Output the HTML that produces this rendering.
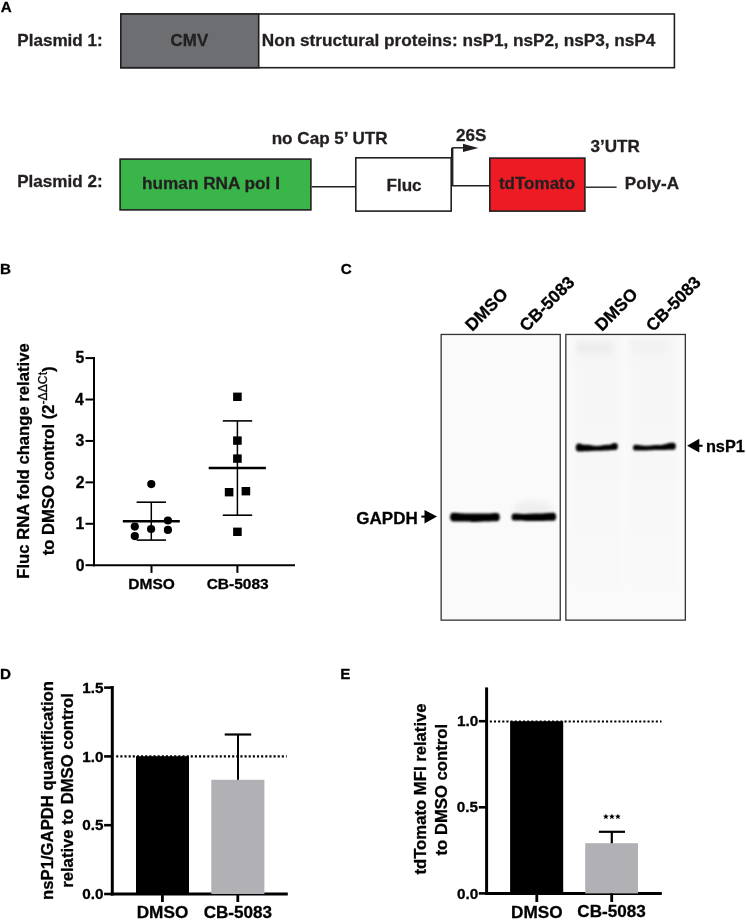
<!DOCTYPE html>
<html><head><meta charset="utf-8"><style>
html,body{margin:0;padding:0;background:#fff;}
svg{display:block;font-family:"Liberation Sans", sans-serif;will-change:transform;} text{stroke:currentColor;stroke-width:0.3px;stroke-linejoin:round;paint-order:stroke;}
</style></head><body>
<svg width="746" height="920" viewBox="0 0 746 920">
<defs><linearGradient id="lane" x1="0" y1="0" x2="0" y2="1"><stop offset="0" stop-color="#000" stop-opacity="0.02"/><stop offset="1" stop-color="#000" stop-opacity="0"/></linearGradient><filter id="blur" x="-20%" y="-100%" width="140%" height="300%"><feGaussianBlur stdDeviation="1.0"/></filter><filter id="blur3" x="-50%" y="-100%" width="200%" height="300%"><feGaussianBlur stdDeviation="3"/></filter></defs>
<rect width="746" height="920" fill="#fff"/>
<text x="0.82" y="12.20" font-size="15.2" font-weight="bold" fill="#000" color="#000">A</text>
<text x="17.25" y="45.90" font-size="17.1" font-weight="bold" fill="#231f20" color="#231f20">Plasmid 1:</text>
<rect x="120.8" y="14.0" width="553.60" height="53.70" fill="#fff" stroke="#231f20" stroke-width="1.6"/>
<rect x="120.8" y="14.0" width="137.90" height="53.70" fill="#6d6e71" stroke="#231f20" stroke-width="1.6"/>
<text x="170.61" y="46.10" font-size="16.9" font-weight="bold" fill="#231f20" color="#231f20">CMV</text>
<text x="261.85" y="45.90" font-size="17.2" font-weight="bold" fill="#231f20" color="#231f20">Non structural proteins: nsP1, nsP2, nsP3, nsP4</text>
<text x="271.67" y="143.80" font-size="17.1" font-weight="bold" fill="#231f20" color="#231f20">no Cap 5’ UTR</text>
<text x="17.15" y="186.60" font-size="17.1" font-weight="bold" fill="#231f20" color="#231f20">Plasmid 2:</text>
<rect x="120.1" y="159.10000000000002" width="190.80" height="50.80" fill="#39b54a" stroke="#231f20" stroke-width="1.6"/>
<text x="142.10" y="188.60" font-size="17.2" font-weight="bold" fill="#231f20" color="#231f20">human RNA pol I</text>
<line x1="311.7" y1="186.8" x2="355" y2="186.8" stroke="#231f20" stroke-width="1.4" />
<rect x="355.8" y="157.8" width="95.40" height="53.30" fill="#fff" stroke="#231f20" stroke-width="1.6"/>
<text x="386.45" y="190.90" font-size="17.1" font-weight="bold" fill="#231f20" color="#231f20">Fluc</text>
<line x1="452.2" y1="147.8" x2="452.2" y2="185" stroke="#231f20" stroke-width="2.4" />
<line x1="452.2" y1="147.8" x2="465" y2="147.8" stroke="#231f20" stroke-width="1.5" />
<path d="M463.0,143.8 L478.4,147.9 L463.0,152.0 Z" fill="#231f20" stroke="none" stroke-width="0"/>
<text x="456.00" y="140.90" font-size="17.1" font-weight="bold" fill="#231f20" color="#231f20">26S</text>
<line x1="452" y1="185.8" x2="489" y2="185.8" stroke="#231f20" stroke-width="1.4" />
<rect x="489.8" y="158.10000000000002" width="95.10" height="53.00" fill="#ed1c24" stroke="#231f20" stroke-width="1.6"/>
<text x="498.90" y="189.40" font-size="17.05" font-weight="bold" fill="#231f20" color="#231f20">tdTomato</text>
<line x1="585.7" y1="187.2" x2="616.6" y2="187.2" stroke="#231f20" stroke-width="1.4" />
<text x="590.51" y="151.50" font-size="17.1" font-weight="bold" fill="#231f20" color="#231f20">3’UTR</text>
<text x="624.85" y="188.50" font-size="17.1" font-weight="bold" fill="#231f20" color="#231f20">Poly-A</text>
<text x="0.08" y="274.00" font-size="15.2" font-weight="bold" fill="#000" color="#000">B</text>
<text transform="translate(28.80,578.72) rotate(-90)" font-size="16.66" font-weight="bold" fill="#000" color="#000">Fluc RNA fold change relative</text>
<text transform="translate(54.2,555.3) rotate(-90)" font-size="16.66" font-weight="bold" fill="#000"><tspan>to DMSO control (2</tspan><tspan font-size="12.2" font-weight="normal" dy="-6.9">-ΔΔCt</tspan><tspan dy="6.9">)</tspan></text>
<line x1="94" y1="357.1" x2="94" y2="566.2" stroke="#000" stroke-width="2" />
<line x1="93" y1="565.2" x2="295" y2="565.2" stroke="#000" stroke-width="2" />
<line x1="85.5" y1="565.2" x2="94" y2="565.2" stroke="#000" stroke-width="2" />
<text transform="translate(75.66,570.50) scale(1,1.04)" font-size="15.8" font-weight="bold" fill="#000" color="#000">0</text>
<line x1="85.5" y1="523.7800000000001" x2="94" y2="523.7800000000001" stroke="#000" stroke-width="2" />
<text transform="translate(75.46,529.08) scale(1,1.04)" font-size="15.8" font-weight="bold" fill="#000" color="#000">1</text>
<line x1="85.5" y1="482.36" x2="94" y2="482.36" stroke="#000" stroke-width="2" />
<text transform="translate(75.65,487.66) scale(1,1.04)" font-size="15.8" font-weight="bold" fill="#000" color="#000">2</text>
<line x1="85.5" y1="440.94000000000005" x2="94" y2="440.94000000000005" stroke="#000" stroke-width="2" />
<text transform="translate(75.58,446.24) scale(1,1.04)" font-size="15.8" font-weight="bold" fill="#000" color="#000">3</text>
<line x1="85.5" y1="399.52000000000004" x2="94" y2="399.52000000000004" stroke="#000" stroke-width="2" />
<text transform="translate(75.09,404.82) scale(1,1.04)" font-size="15.8" font-weight="bold" fill="#000" color="#000">4</text>
<line x1="85.5" y1="358.1" x2="94" y2="358.1" stroke="#000" stroke-width="2" />
<text transform="translate(75.46,363.40) scale(1,1.04)" font-size="15.8" font-weight="bold" fill="#000" color="#000">5</text>
<line x1="151.5" y1="565.2" x2="151.5" y2="572.9" stroke="#000" stroke-width="2" />
<line x1="237.4" y1="565.2" x2="237.4" y2="572.9" stroke="#000" stroke-width="2" />
<text x="128.36" y="589.00" font-size="15.5" font-weight="bold" fill="#000" color="#000">DMSO</text>
<text x="206.65" y="589.00" font-size="15.5" font-weight="bold" fill="#000" color="#000">CB-5083</text>
<circle cx="151.3" cy="484.1" r="4.1" fill="#000"/>
<circle cx="167.9" cy="520.5" r="4.1" fill="#000"/>
<circle cx="134.8" cy="526.6" r="4.1" fill="#000"/>
<circle cx="151.1" cy="529" r="4.1" fill="#000"/>
<circle cx="167.9" cy="529.9" r="4.1" fill="#000"/>
<circle cx="134.8" cy="536.1" r="4.1" fill="#000"/>
<line x1="151.3" y1="502.2" x2="151.3" y2="540.1" stroke="#000" stroke-width="1.5" />
<line x1="136.6" y1="502.2" x2="166" y2="502.2" stroke="#000" stroke-width="1.6" />
<line x1="136.6" y1="540.1" x2="166" y2="540.1" stroke="#000" stroke-width="1.6" />
<line x1="122.8" y1="521.2" x2="179.8" y2="521.2" stroke="#000" stroke-width="2.6" />
<rect x="233.1" y="392.6" width="8.60" height="8.40" fill="#000" stroke="none" stroke-width="0"/>
<rect x="233.1" y="436.40000000000003" width="8.60" height="8.40" fill="#000" stroke="none" stroke-width="0"/>
<rect x="233.1" y="454.40000000000003" width="8.60" height="8.40" fill="#000" stroke="none" stroke-width="0"/>
<rect x="224.79999999999998" y="488.0" width="8.60" height="8.40" fill="#000" stroke="none" stroke-width="0"/>
<rect x="241.6" y="487.0" width="8.60" height="8.40" fill="#000" stroke="none" stroke-width="0"/>
<rect x="233.1" y="527.5999999999999" width="8.60" height="8.40" fill="#000" stroke="none" stroke-width="0"/>
<line x1="237.4" y1="420.9" x2="237.4" y2="515.2" stroke="#000" stroke-width="1.5" />
<line x1="222.8" y1="420.9" x2="252.2" y2="420.9" stroke="#000" stroke-width="1.6" />
<line x1="222.8" y1="515.2" x2="252.2" y2="515.2" stroke="#000" stroke-width="1.6" />
<line x1="208.7" y1="468" x2="265.9" y2="468" stroke="#000" stroke-width="2.6" />
<text x="340.68" y="274.10" font-size="15.2" font-weight="bold" fill="#000" color="#000">C</text>
<rect x="441.15" y="334.45" width="119.10" height="285.70" fill="#fafafa" stroke="#333" stroke-width="1.3"/>
<rect x="565.85" y="334.45" width="119.50" height="285.70" fill="#fafafa" stroke="#333" stroke-width="1.3"/>
<text transform="translate(472.30,332.00) rotate(-45)" font-size="17.3" font-weight="bold" fill="#000">DMSO</text>
<text transform="translate(526.60,332.40) rotate(-45)" font-size="17.3" font-weight="bold" fill="#000">CB-5083</text>
<text transform="translate(602.00,332.00) rotate(-45)" font-size="17.3" font-weight="bold" fill="#000">DMSO</text>
<text transform="translate(653.00,332.40) rotate(-45)" font-size="17.3" font-weight="bold" fill="#000">CB-5083</text>
<path d="M453.00,512.80 C458.50,512.80 458.50,513.40 464.00,513.40 C469.50,513.40 469.50,513.50 475.00,513.50 C480.50,513.50 480.50,513.50 486.00,513.50 C491.50,513.50 491.50,512.90 497.00,512.90 C500.78,512.90 500.78,521.30 497.00,521.30 C491.50,521.30 491.50,521.50 486.00,521.50 C480.50,521.50 480.50,521.90 475.00,521.90 C469.50,521.90 469.50,521.40 464.00,521.40 C458.50,521.40 458.50,521.40 453.00,521.40 C449.13,521.40 449.13,512.80 453.00,512.80 Z" fill="#000" filter="url(#blur)"/>
<path d="M514.00,513.40 C519.92,513.40 519.92,513.90 525.85,513.90 C531.78,513.90 531.78,513.60 537.70,513.60 C545.60,513.60 545.60,512.80 553.50,512.80 C557.10,512.80 557.10,520.80 553.50,520.80 C545.60,520.80 545.60,521.00 537.70,521.00 C531.78,521.00 531.78,520.90 525.85,520.90 C519.92,520.90 519.92,520.60 514.00,520.60 C510.76,520.60 510.76,513.40 514.00,513.40 Z" fill="#000" filter="url(#blur)"/>
<path d="M578.50,443.40 C582.20,443.40 582.20,444.80 585.90,444.80 C591.45,444.80 591.45,445.90 597.00,445.90 C602.55,445.90 602.55,444.80 608.10,444.80 C611.80,444.80 611.80,443.10 615.50,443.10 C618.65,443.10 618.65,450.10 615.50,450.10 C611.80,450.10 611.80,450.40 608.10,450.40 C602.55,450.40 602.55,450.70 597.00,450.70 C591.45,450.70 591.45,451.20 585.90,451.20 C582.20,451.20 582.20,451.60 578.50,451.60 C574.81,451.60 574.81,443.40 578.50,443.40 Z" fill="#000" filter="url(#blur)"/>
<path d="M635.00,444.80 C640.77,444.80 640.77,445.80 646.55,445.80 C652.33,445.80 652.33,445.10 658.10,445.10 C665.80,445.10 665.80,442.80 673.50,442.80 C676.65,442.80 676.65,449.80 673.50,449.80 C665.80,449.80 665.80,450.10 658.10,450.10 C652.33,450.10 652.33,450.40 646.55,450.40 C640.77,450.40 640.77,450.60 635.00,450.60 C632.39,450.60 632.39,444.80 635.00,444.80 Z" fill="#000" filter="url(#blur)"/>
<ellipse cx="533" cy="509" rx="20" ry="8" fill="#000" opacity="0.045" filter="url(#blur3)"/>
<rect x="576" y="343" width="36" height="10" fill="#000" opacity="0.035" filter="url(#blur3)"/>
<rect x="629" y="339" width="38" height="14" fill="#000" opacity="0.012" filter="url(#blur3)"/>
<rect x="574" y="336" width="46" height="282" fill="url(#lane)" filter="url(#blur3)"/>
<rect x="630" y="336" width="46" height="282" fill="url(#lane)" filter="url(#blur3)"/>
<text x="356.30" y="523.60" font-size="17" font-weight="bold" fill="#000" color="#000">GAPDH</text>
<line x1="421.3" y1="516.6" x2="426" y2="516.6" stroke="#000" stroke-width="2" />
<path d="M424.5,509.9 L437,516.6 L424.5,523.4 Z" fill="#000" stroke="none" stroke-width="0"/>
<line x1="698" y1="445.75" x2="702.6" y2="445.75" stroke="#000" stroke-width="2" />
<path d="M699.3,438.85 L687.1,445.75 L699.3,452.6 Z" fill="#000" stroke="none" stroke-width="0"/>
<text x="705.92" y="451.50" font-size="16.3" font-weight="bold" fill="#000" color="#000">nsP1</text>
<text x="-0.02" y="679.40" font-size="15.2" font-weight="bold" fill="#000" color="#000">D</text>
<text transform="translate(53.40,899.90) rotate(-90)" font-size="16.7" font-weight="bold" fill="#000" color="#000">nsP1/GAPDH quantification</text>
<text transform="translate(73.30,887.80) rotate(-90)" font-size="16.7" font-weight="bold" fill="#000" color="#000">relative to DMSO control</text>
<line x1="112.3" y1="686" x2="112.3" y2="895.5" stroke="#000" stroke-width="3" />
<line x1="110.8" y1="894.0" x2="287.8" y2="894.0" stroke="#000" stroke-width="3" />
<line x1="104.1" y1="894.0" x2="112.3" y2="894.0" stroke="#000" stroke-width="2.6" />
<text x="82.36" y="899.10" font-size="15.3" font-weight="bold" fill="#000" color="#000">0.0</text>
<line x1="104.1" y1="825.2" x2="112.3" y2="825.2" stroke="#000" stroke-width="2.6" />
<text x="82.16" y="830.30" font-size="15.3" font-weight="bold" fill="#000" color="#000">0.5</text>
<line x1="104.1" y1="756.4" x2="112.3" y2="756.4" stroke="#000" stroke-width="2.6" />
<text x="82.36" y="761.50" font-size="15.3" font-weight="bold" fill="#000" color="#000">1.0</text>
<line x1="104.1" y1="687.6" x2="112.3" y2="687.6" stroke="#000" stroke-width="2.6" />
<text x="82.16" y="692.70" font-size="15.3" font-weight="bold" fill="#000" color="#000">1.5</text>
<rect x="136" y="756.2" width="53.00" height="137.80" fill="#000" stroke="none" stroke-width="0"/>
<rect x="211.3" y="779.8" width="53.10" height="114.20" fill="#b1b0b5" stroke="none" stroke-width="0"/>
<line x1="238" y1="734.5" x2="238" y2="779.8" stroke="#000" stroke-width="2" />
<line x1="224.7" y1="734.5" x2="251.2" y2="734.5" stroke="#000" stroke-width="2.2" />
<line x1="116.2" y1="756.4" x2="286.7" y2="756.4" stroke="#000" stroke-width="2.1" stroke-dasharray="2.1 2.04"/>
<line x1="162.4" y1="894.0" x2="162.4" y2="902" stroke="#000" stroke-width="2.8" />
<line x1="237.8" y1="894.0" x2="237.8" y2="902" stroke="#000" stroke-width="2.8" />
<text x="136.69" y="918.00" font-size="17.2" font-weight="bold" fill="#000" color="#000">DMSO</text>
<text x="203.64" y="917.60" font-size="17.1" font-weight="bold" fill="#000" color="#000">CB-5083</text>
<text x="340.28" y="679.40" font-size="15.2" font-weight="bold" fill="#000" color="#000">E</text>
<text transform="translate(426.30,874.60) rotate(-90)" font-size="16.7" font-weight="bold" fill="#000" color="#000">tdTomato MFI relative</text>
<text transform="translate(446.60,855.50) rotate(-90)" font-size="16.7" font-weight="bold" fill="#000" color="#000">to DMSO control</text>
<line x1="486.6" y1="687.4" x2="486.6" y2="894.9" stroke="#000" stroke-width="3" />
<line x1="485.1" y1="893.4" x2="661.8" y2="893.4" stroke="#000" stroke-width="3" />
<line x1="478.8" y1="893.4" x2="486.6" y2="893.4" stroke="#000" stroke-width="2.6" />
<text x="456.96" y="898.50" font-size="15.3" font-weight="bold" fill="#000" color="#000">0.0</text>
<line x1="478.8" y1="807.3" x2="486.6" y2="807.3" stroke="#000" stroke-width="2.6" />
<text x="456.76" y="812.40" font-size="15.3" font-weight="bold" fill="#000" color="#000">0.5</text>
<line x1="478.8" y1="721.2" x2="486.6" y2="721.2" stroke="#000" stroke-width="2.6" />
<text x="456.96" y="726.30" font-size="15.3" font-weight="bold" fill="#000" color="#000">1.0</text>
<rect x="510.1" y="721.2" width="53.10" height="172.20" fill="#000" stroke="none" stroke-width="0"/>
<rect x="585.2" y="843.2" width="52.80" height="50.20" fill="#b1b0b5" stroke="none" stroke-width="0"/>
<line x1="611.8" y1="831.8" x2="611.8" y2="843.2" stroke="#000" stroke-width="2.2" />
<line x1="598.9" y1="831.8" x2="625" y2="831.8" stroke="#000" stroke-width="2.2" />
<line x1="489.8" y1="721.5" x2="661.5" y2="721.5" stroke="#000" stroke-width="2.1" stroke-dasharray="2.1 2.05"/>
<line x1="536.8" y1="893.4" x2="536.8" y2="902" stroke="#000" stroke-width="2.8" />
<line x1="611.7" y1="893.4" x2="611.7" y2="902" stroke="#000" stroke-width="2.8" />
<text x="510.99" y="917.60" font-size="17.2" font-weight="bold" fill="#000" color="#000">DMSO</text>
<text x="577.34" y="916.60" font-size="17.1" font-weight="bold" fill="#000" color="#000">CB-5083</text>
<polygon points="605.90,813.70 606.69,815.61 608.75,815.77 607.18,817.12 607.66,819.13 605.90,818.05 604.14,819.13 604.62,817.12 603.05,815.77 605.11,815.61" fill="#000"/>
<polygon points="611.90,813.70 612.69,815.61 614.75,815.77 613.18,817.12 613.66,819.13 611.90,818.05 610.14,819.13 610.62,817.12 609.05,815.77 611.11,815.61" fill="#000"/>
<polygon points="617.90,813.70 618.69,815.61 620.75,815.77 619.18,817.12 619.66,819.13 617.90,818.05 616.14,819.13 616.62,817.12 615.05,815.77 617.11,815.61" fill="#000"/>
</svg></body></html>
